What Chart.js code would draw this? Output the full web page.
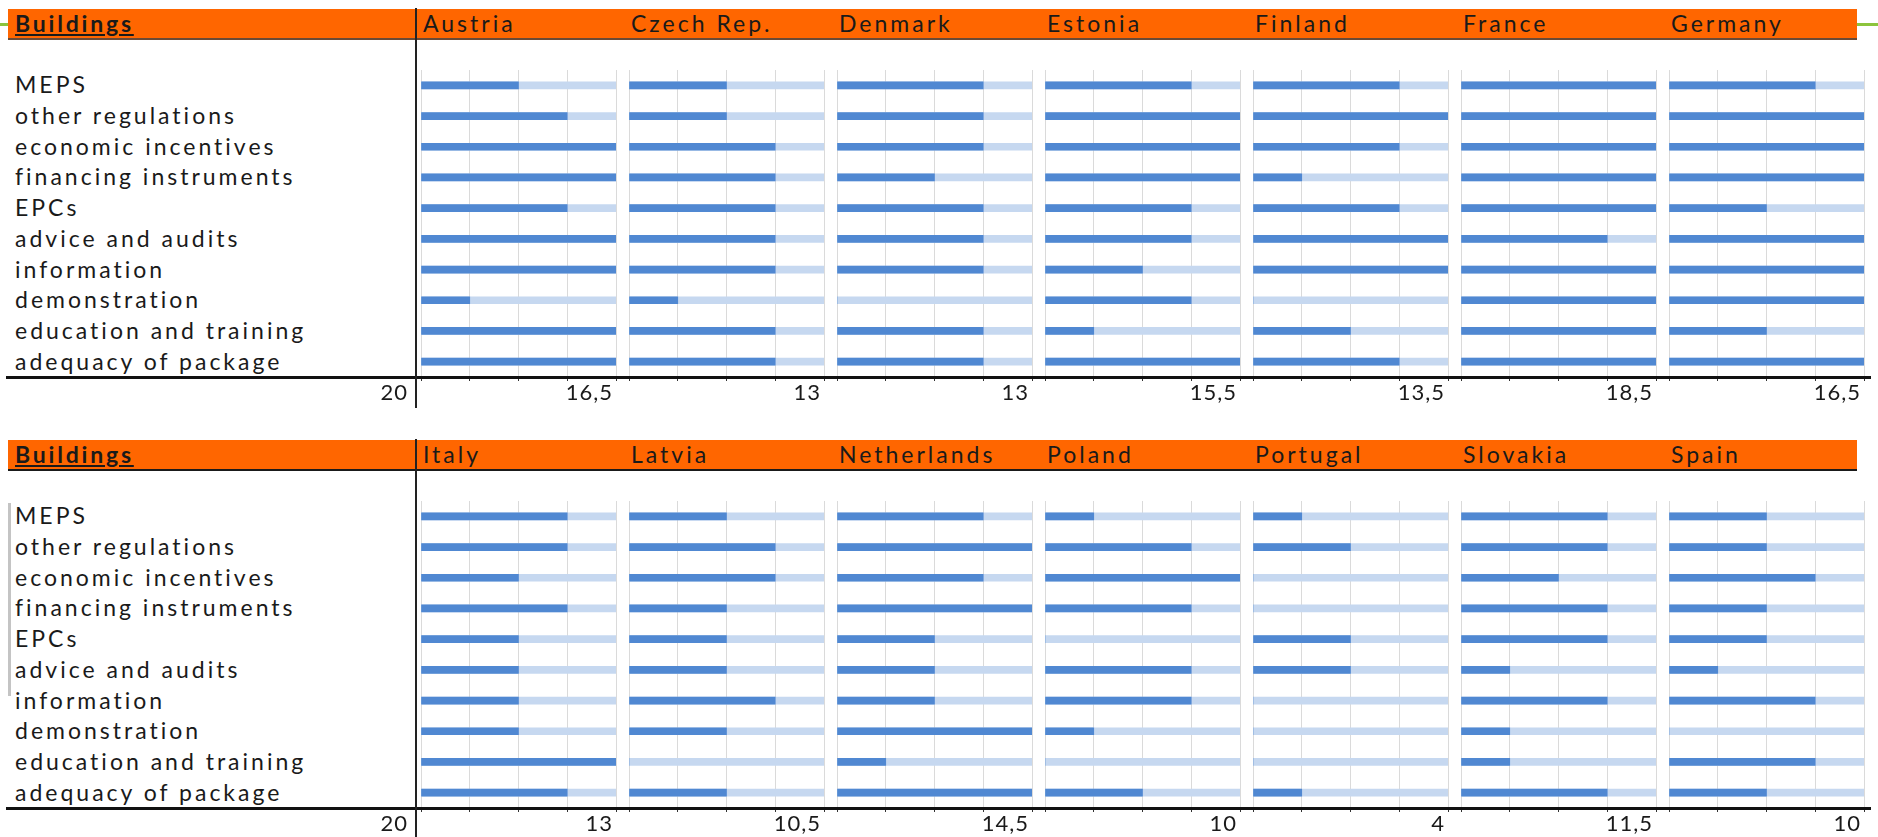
<!DOCTYPE html>
<html>
<head>
<meta charset="utf-8">
<title>Buildings – policy package scores</title>
<script src="https://cdn.jsdelivr.net/npm/chart.js@4.4.1/dist/chart.umd.min.js"></script>
<style>
  html, body { margin: 0; padding: 0; background: #fff; }
  body { width: 1878px; height: 837px; position: relative; overflow: hidden;
         font-family: Lato, "Noto Sans", sans-serif; color: #1a1a1a; }
  .abs { position: absolute; }
  .green { background: #8cc43c; height: 3px; left: 0; width: 1878px; }
  .header { background: #ff6600; left: 8px; width: 1849px; height: 29px; box-sizing: border-box; }
  .title { font-weight: bold; text-decoration: underline; text-underline-offset: 2px;
           font-size: 23px; letter-spacing: 2.8px; line-height: 29px; white-space: nowrap; }
  .country { font-size: 23px; letter-spacing: 3px; line-height: 29px; white-space: nowrap; }
  .cat { font-size: 23px; letter-spacing: 3px; line-height: 24px; white-space: nowrap; }
  .total { font-size: 22px; letter-spacing: 1px; line-height: 24px; text-align: right; white-space: nowrap; }
  .vline { background: #222; width: 2px; }
  .axis { background: #111; height: 3px; left: 6px; width: 1865px; }
  canvas { position: absolute; }
</style>
</head>
<body>
<script>
// Categories of the building-sector policy package
const categories = [
  'MEPS', 'other regulations', 'economic incentives', 'financing instruments', 'EPCs',
  'advice and audits', 'information', 'demonstration', 'education and training', 'adequacy of package'
];

// Scores per category (0 – 2, half steps)
const austria     = [1, 1.5, 2, 2, 1.5, 2, 2, 0.5, 2, 2];
const czechRep    = [1, 1, 1.5, 1.5, 1.5, 1.5, 1.5, 0.5, 1.5, 1.5];
const denmark     = [1.5, 1.5, 1.5, 1, 1.5, 1.5, 1.5, 0, 1.5, 1.5];
const estonia     = [1.5, 2, 2, 2, 1.5, 1.5, 1, 1.5, 0.5, 2];
const finland     = [1.5, 2, 1.5, 0.5, 1.5, 2, 2, 0, 1, 1.5];
const france      = [2, 2, 2, 2, 2, 1.5, 2, 2, 2, 2];
const germany     = [1.5, 2, 2, 2, 1, 2, 2, 2, 1, 2];
const italy       = [1.5, 1.5, 1, 1.5, 1, 1, 1, 1, 2, 1.5];
const latvia      = [1, 1.5, 1.5, 1, 1, 1, 1.5, 1, 0, 1];
const netherlands = [1.5, 2, 1.5, 2, 1, 1, 1, 2, 0.5, 2];
const poland      = [0.5, 1.5, 2, 1.5, 0, 1.5, 1.5, 0.5, 0, 1];
const portugal    = [0.5, 1, 0, 0, 1, 1, 0, 0, 0, 0.5];
const slovakia    = [1.5, 1.5, 1, 1.5, 1.5, 0.5, 1.5, 0.5, 0.5, 1.5];
const spain       = [1, 1, 1.5, 1, 1, 0.5, 1.5, 0, 1.5, 1];

// Country names and total-score labels for each block
const countriesTop    = ['Austria', 'Czech Rep.', 'Denmark', 'Estonia', 'Finland', 'France', 'Germany'];
const countriesBottom = ['Italy', 'Latvia', 'Netherlands', 'Poland', 'Portugal', 'Slovakia', 'Spain'];
const scoresTop    = [austria, czechRep, denmark, estonia, finland, france, germany];
const scoresBottom = [italy, latvia, netherlands, poland, portugal, slovakia, spain];
const totalsTop    = ['16,5', '13', '13', '15,5', '13,5', '18,5', '16,5'];
const totalsBottom = ['13', '10,5', '14,5', '10', '4', '11,5', '10'];
const maxTotalLabel = '20';
const maxScore = 2;
const scoreStep = 0.5;

// Layout
const DARK = '#5088d2';
const LIGHT = '#c6d8f0';
const COL_LEFT = 421, COL_PITCH = 208, COL_WIDTH = 195;
const PLOT_TOP = 70, PLOT_HEIGHT = 307, TICK_LEN = 4;

function el(cls, style, text) {
  const d = document.createElement('div');
  d.className = 'abs ' + cls;
  Object.assign(d.style, style);
  if (text !== undefined) d.textContent = text;
  document.body.appendChild(d);
  return d;
}

function drawBlock(offsetY, countries, scores, totals, headerBorder, withRule) {
  if (withRule) el('green', { top: (offsetY + 23) + 'px' });
  el('header', { top: (offsetY + 9) + 'px', borderBottom: '2px solid ' + headerBorder, height: '31px' });
  el('title', { left: '15px', top: (offsetY + 9) + 'px' }, 'Buildings');

  countries.forEach((name, k) => {
    el('country', { left: (COL_LEFT + 2 + k * COL_PITCH) + 'px', top: (offsetY + 9) + 'px' }, name);
  });

  const rowH = PLOT_HEIGHT / categories.length;
  categories.forEach((c, i) => {
    el('cat', { left: '15px', top: (offsetY + PLOT_TOP + rowH * (i + 0.5) - 13) + 'px' }, c);
  });

  scores.forEach((values, k) => {
    const cv = document.createElement('canvas');
    cv.width = COL_WIDTH + 2;
    cv.height = PLOT_HEIGHT + TICK_LEN;
    cv.style.left = (COL_LEFT - 1 + k * COL_PITCH) + 'px';
    cv.style.top = (offsetY + PLOT_TOP) + 'px';
    document.body.appendChild(cv);
    new Chart(cv, {
      type: 'bar',
      data: {
        labels: categories,
        datasets: [
          { data: values, backgroundColor: DARK, grouped: false, order: 0, barThickness: 7, borderWidth: 0 },
          { data: categories.map(() => maxScore), backgroundColor: LIGHT, grouped: false, order: 1, barThickness: 7, borderWidth: 0 }
        ]
      },
      options: {
        indexAxis: 'y',
        responsive: false,
        animation: false,
        events: [],
        layout: { padding: { left: 1, right: 1, top: 0, bottom: 0 } },
        plugins: { legend: { display: false }, tooltip: { enabled: false } },
        scales: {
          x: {
            min: 0, max: maxScore,
            ticks: { display: false, stepSize: scoreStep },
            grid: { color: '#dadada', lineWidth: 1, tickColor: '#333', tickLength: TICK_LEN },
            border: { display: false }
          },
          y: { display: false }
        }
      }
    });
  });

  el('axis', { top: (offsetY + PLOT_TOP + PLOT_HEIGHT - 1) + 'px' });
  el('vline', { left: '415px', top: (offsetY + 8) + 'px', height: '400px' });

  // trailing letter-spacing is compensated so the digits end at the column edge
  el('total', { right: (1878 - 407 - 1) + 'px', top: (offsetY + 380) + 'px' }, maxTotalLabel);
  totals.forEach((t, k) => {
    el('total', { right: (1878 - (COL_LEFT + COL_WIDTH - 4 + k * COL_PITCH) - 1) + 'px', top: (offsetY + 380) + 'px' }, t);
  });
}

drawBlock(0, countriesTop, scoresTop, totalsTop, '#6a4a36', true);
drawBlock(431, countriesBottom, scoresBottom, totalsBottom, '#1a1a1a', false);

// scroll-bar remnant beside the lower label column
el('', { left: '8px', top: '503px', width: '3px', height: '193px', background: '#c4c4c4' });
</script>
</body>
</html>
